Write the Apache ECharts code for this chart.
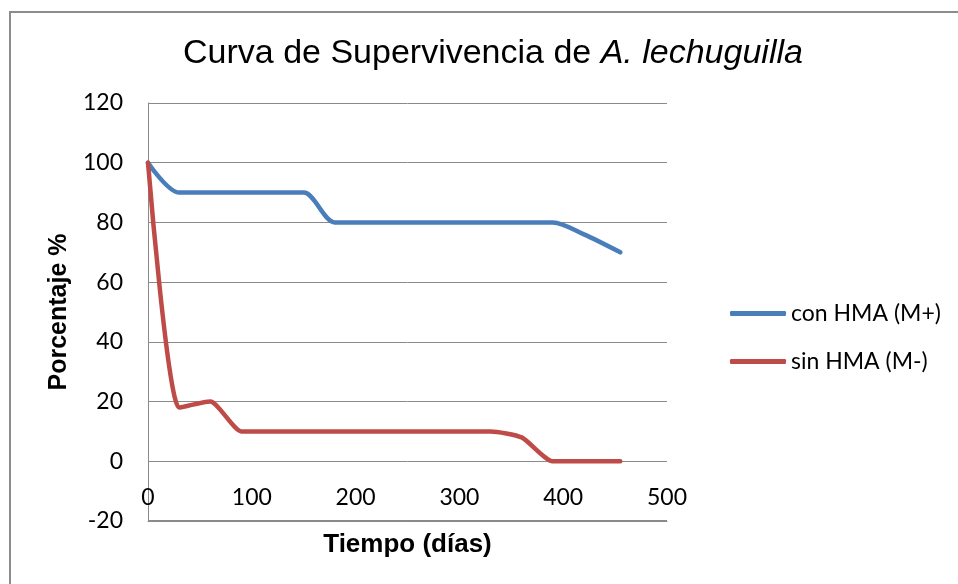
<!DOCTYPE html>
<html>
<head>
<meta charset="utf-8">
<script src="https://cdn.jsdelivr.net/npm/echarts@6/dist/echarts.min.js"></script>
<style>
  html, body { margin: 0; padding: 0; background: #fff; }
  #chart { width: 958px; height: 584px; }
</style>
</head>
<body>
<div id="chart"></div>
<script>
// dias de observacion
var dias = [0, 30, 60, 90, 120, 150, 180, 210, 240, 270, 300, 330, 360, 390, 420, 455];
// porcentaje de supervivencia
var conHMA = [100, 90, 90, 90, 90, 90, 80, 80, 80, 80, 80, 80, 80, 80, 76, 70];
var sinHMA = [100, 18, 20, 10, 10, 10, 10, 10, 10, 10, 10, 10, 8, 0, 0, 0];
var nombres = ['con HMA (M+)', 'sin HMA (M-)'];
var xMin = 0, xMax = 500, yMin = -20, yMax = 120;

function pares(xs, ys) {
    var out = [];
    for (var i = 0; i < xs.length; i++) { out.push([xs[i], ys[i]]); }
    return out;
}

var myChart = echarts.init(document.getElementById('chart'));
var gris = '#8a8a8a';
var labelFont = 'Lato, "Open Sans", sans-serif';
var arial = '"Liberation Sans", Arial, sans-serif';

var option = {
    animation: false,
    graphic: [{
        id: 'marco',
        type: 'rect',
        shape: { x: 10, y: 12, width: 1000, height: 1000 },
        style: { fill: 'none', stroke: '#8c8c8c', lineWidth: 2 }
    }],
    title: {
        text: '{a|Curva de Supervivencia de }{b|A. lechuguilla}',
        left: 178,
        top: 32,
        textStyle: {
            rich: {
                a: { fontFamily: arial, fontSize: 34, fontWeight: 'normal', color: '#000' },
                b: { fontFamily: arial, fontSize: 34, fontWeight: 'normal', fontStyle: 'italic', color: '#000' }
            }
        }
    },
    legend: {
        orient: 'vertical',
        left: 725,
        top: 297,
        icon: 'roundRect',
        itemWidth: 56,
        itemHeight: 5,
        itemGap: 25,
        textStyle: { fontFamily: labelFont, fontSize: 23, color: '#000' },
        data: nombres
    },
    grid: { left: 148, right: 291, top: 103, bottom: 63, containLabel: false, outerBoundsMode: 'none' },
    xAxis: {
        type: 'value',
        min: xMin, max: xMax, interval: 100,
        name: 'Tiempo (días)',
        nameLocation: 'middle',
        nameGap: 11,
        nameTextStyle: { fontFamily: arial, fontWeight: 'bold', fontSize: 26, color: '#000' },
        axisLine: { show: true, onZero: false, lineStyle: { color: gris, width: 1 } },
        axisTick: { show: false },
        splitLine: { show: false },
        axisLabel: { margin: -35, fontFamily: labelFont, fontSize: 23, color: '#000' }
    },
    yAxis: {
        type: 'value',
        min: yMin, max: yMax, interval: 20,
        name: 'Porcentaje %',
        nameLocation: 'middle',
        nameGap: 73,
        nameTextStyle: { fontFamily: arial, fontWeight: 'bold', fontSize: 25, color: '#000' },
        axisLine: { show: true, lineStyle: { color: gris, width: 1 } },
        axisTick: { show: false },
        splitLine: { show: true, showMinLine: true, showMaxLine: true, lineStyle: { color: gris, width: 1 } },
        axisLabel: { margin: 25, fontFamily: labelFont, fontSize: 23, color: '#000' }
    },
    series: [
        {
            name: nombres[0],
            type: 'line',
            smooth: 0.3,
            showSymbol: false,
            symbol: 'none',
            lineStyle: { color: '#4A7EBB', width: 4.5, cap: 'round' },
            itemStyle: { color: '#4A7EBB' },
            data: pares(dias, conHMA)
        },
        {
            name: nombres[1],
            type: 'line',
            smooth: 0.2,
            showSymbol: false,
            symbol: 'none',
            lineStyle: { color: '#BE4B48', width: 4.5, cap: 'round' },
            itemStyle: { color: '#BE4B48' },
            data: pares(dias, sinHMA)
        }
    ]
};

myChart.setOption(option);

// borde inferior del area (valor -20), como franja rellena tomada de las escalas
var pA = myChart.convertToPixel({ gridIndex: 0 }, [xMin, yMin]);
var pB = myChart.convertToPixel({ gridIndex: 0 }, [xMax, yMin]);
if (pA && pB) {
    myChart.setOption({
        graphic: [{
            id: 'base',
            type: 'rect',
            z: 100,
            silent: true,
            shape: { x: pA[0], y: Math.floor(pA[1]) - 1, width: pB[0] - pA[0], height: 1 },
            style: { fill: gris }
        }]
    });
}
</script>
</body>
</html>
